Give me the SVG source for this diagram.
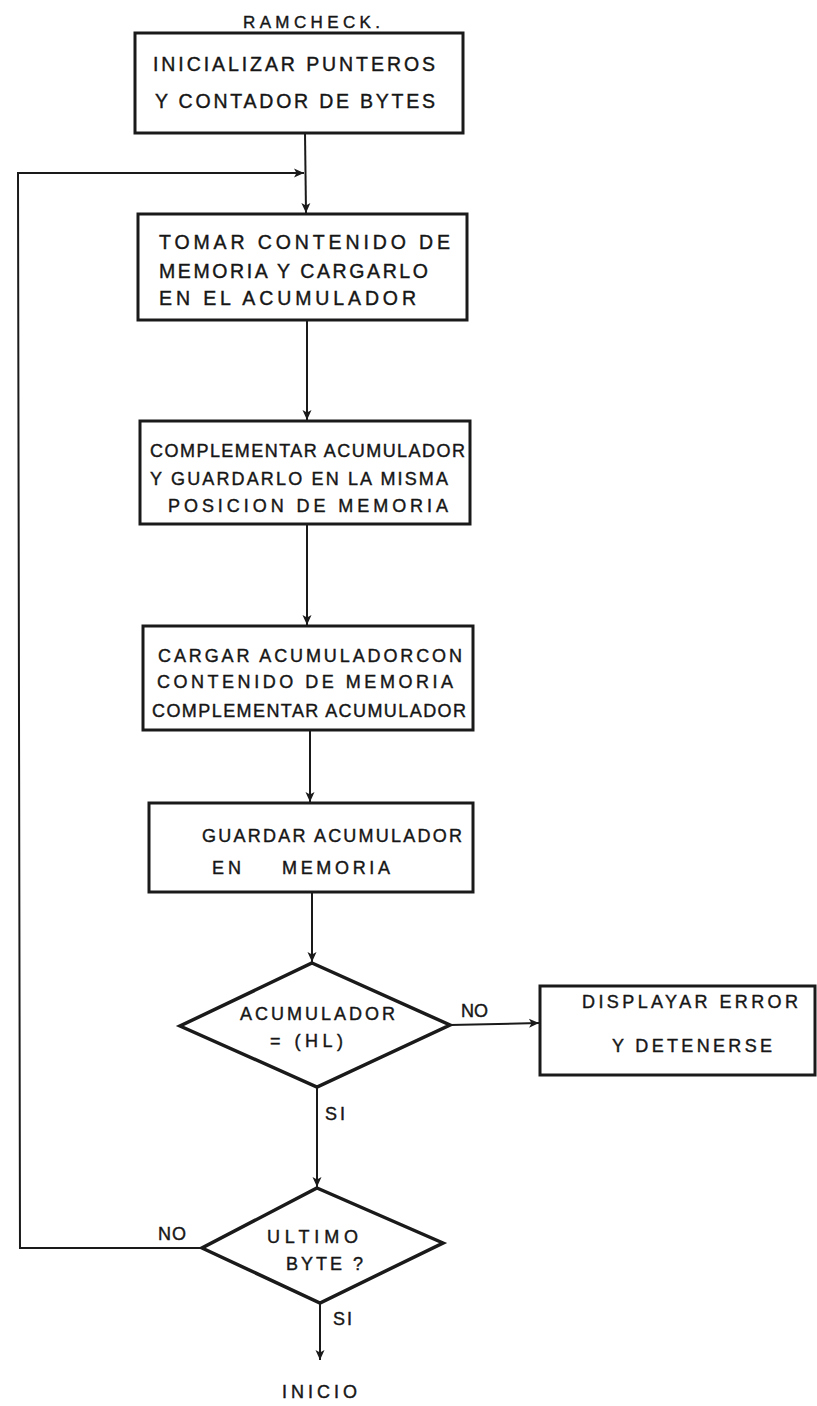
<svg xmlns="http://www.w3.org/2000/svg" width="817" height="1406" viewBox="0 0 817 1406">
<style>
.box{fill:#fff;stroke:#1a1a1a;stroke-width:3}
.dia{fill:#fff;stroke:#1a1a1a;stroke-width:3.5;stroke-linejoin:miter}
.con{fill:none;stroke:#1a1a1a;stroke-width:2}
.t,.tl,.ts{font-family:"Liberation Sans","DejaVu Sans",Arial,sans-serif;fill:#161616;stroke:#161616;stroke-width:0.4}
.t{font-size:18px}
.tl{font-size:19.5px}
.ts{font-size:17px}
</style>
<defs>
<marker id="ah" viewBox="0 0 10 10" refX="10" refY="5" markerWidth="12" markerHeight="10" markerUnits="userSpaceOnUse" orient="auto">
<path d="M0,0.5 L10,5 L0,9.5 L2.5,5 z" fill="#1a1a1a"/>
</marker>
</defs>
<rect width="817" height="1406" fill="#fff"/>

<text class="ts" x="243" y="28" textLength="137" lengthAdjust="spacing">RAMCHECK.</text>

<g id="connectors">
<line class="con" x1="305" y1="133" x2="306" y2="213" marker-end="url(#ah)"/>
<polyline class="con" points="205,1248 20,1248 18,173 304,173" marker-end="url(#ah)"/>
<line class="con" x1="307" y1="320" x2="307" y2="420" marker-end="url(#ah)"/>
<line class="con" x1="307" y1="524" x2="307" y2="625" marker-end="url(#ah)"/>
<line class="con" x1="310" y1="730" x2="310" y2="802" marker-end="url(#ah)"/>
<line class="con" x1="312" y1="892" x2="312" y2="962" marker-end="url(#ah)"/>
<line class="con" x1="450" y1="1025" x2="539" y2="1023" marker-end="url(#ah)"/>
<line class="con" x1="317" y1="1087" x2="317" y2="1187" marker-end="url(#ah)"/>
<line class="con" x1="320" y1="1303" x2="320" y2="1360" marker-end="url(#ah)"/>
<text class="t" x="461" y="1017" textLength="27" lengthAdjust="spacing">NO</text>
<text class="t" x="325" y="1120" textLength="20" lengthAdjust="spacing">SI</text>
<text class="t" x="158" y="1240" textLength="28" lengthAdjust="spacing">NO</text>
<text class="t" x="333" y="1325" textLength="19" lengthAdjust="spacing">SI</text>
</g>

<g id="n1">
<rect class="box" x="135" y="33" width="328" height="100"/>
<text class="tl" x="153" y="71" textLength="282" lengthAdjust="spacing">INICIALIZAR PUNTEROS</text>
<text class="tl" x="155" y="108" textLength="280" lengthAdjust="spacing">Y CONTADOR DE BYTES</text>
</g>

<g id="n2">
<rect class="box" x="138" y="214" width="329" height="106"/>
<text class="tl" x="159" y="249" textLength="291" lengthAdjust="spacing">TOMAR  CONTENIDO DE</text>
<text class="tl" x="159" y="278" textLength="269" lengthAdjust="spacing">MEMORIA Y CARGARLO</text>
<text class="tl" x="159" y="305" textLength="257" lengthAdjust="spacing">EN EL ACUMULADOR</text>
</g>

<g id="n3">
<rect class="box" x="140" y="421" width="330" height="103"/>
<text class="t" x="150" y="457" textLength="315" lengthAdjust="spacing">COMPLEMENTAR ACUMULADOR</text>
<text class="t" x="150" y="485" textLength="298" lengthAdjust="spacing">Y GUARDARLO EN LA MISMA</text>
<text class="t" x="168" y="512" textLength="280" lengthAdjust="spacing">POSICION DE MEMORIA</text>
</g>

<g id="n4">
<rect class="box" x="143" y="626" width="330" height="104"/>
<text class="t" x="158" y="662" textLength="304" lengthAdjust="spacing">CARGAR ACUMULADORCON</text>
<text class="t" x="157" y="688" textLength="296" lengthAdjust="spacing">CONTENIDO DE MEMORIA</text>
<text class="t" x="152" y="717" textLength="314" lengthAdjust="spacing">COMPLEMENTAR ACUMULADOR</text>
</g>

<g id="n5">
<rect class="box" x="149" y="803" width="324" height="89"/>
<text class="t" x="202" y="842" textLength="260" lengthAdjust="spacing">GUARDAR ACUMULADOR</text>
<text class="t" x="212" y="874" textLength="29" lengthAdjust="spacing">EN</text>
<text class="t" x="282" y="874" textLength="108" lengthAdjust="spacing">MEMORIA</text>
</g>

<g id="n6">
<polygon class="dia" points="312,963 450,1025 317,1087 180,1026"/>
<text class="t" x="240" y="1020" textLength="155" lengthAdjust="spacing">ACUMULADOR</text>
<text class="t" x="270" y="1047" textLength="73" lengthAdjust="spacing">= (HL)</text>
</g>

<g id="n7">
<rect class="box" x="540" y="986" width="275" height="89"/>
<text class="t" x="582" y="1008" textLength="216" lengthAdjust="spacing">DISPLAYAR ERROR</text>
<text class="t" x="612" y="1052" textLength="160" lengthAdjust="spacing">Y DETENERSE</text>
</g>

<g id="n8">
<polygon class="dia" points="317,1188 443,1243 320,1303 202,1248"/>
<text class="t" x="267" y="1243" textLength="91" lengthAdjust="spacing">ULTIMO</text>
<text class="t" x="286" y="1270" textLength="77" lengthAdjust="spacing">BYTE ?</text>
</g>

<g id="n9">
<text class="t" x="282" y="1398" textLength="75" lengthAdjust="spacing">INICIO</text>
</g>
</svg>
